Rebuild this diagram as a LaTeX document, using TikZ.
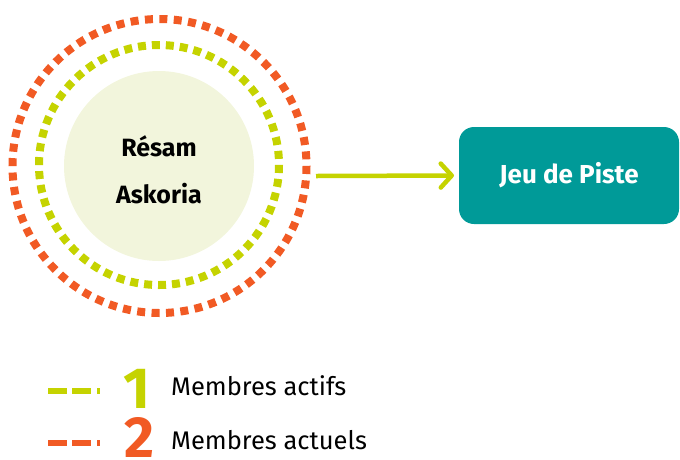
\documentclass[tikz,border=0pt]{standalone}
\usepackage{fontspec}
\setmainfont{Fira Sans}
\usetikzlibrary{arrows.meta}
\definecolor{org}{HTML}{F15A24}
\definecolor{lim}{HTML}{C5D300}
\definecolor{pale}{HTML}{F2F5DC}
\definecolor{teal}{HTML}{009A98}
\tikzset{
  ring/.style={line width=8pt},
  legdash/.style={line width=5.5pt, dash pattern=on 19pt off 5pt on 19pt off 6pt on 3pt off 10pt},
  bignum/.style={font=\bfseries\fontsize{58}{58}\selectfont, anchor=base, inner sep=0pt, text height=40pt, text depth=0pt},
  legtext/.style={font=\fontsize{25.5}{25.5}\selectfont, anchor=base west, inner sep=0pt},
}
\begin{document}
\begin{tikzpicture}[x=1pt,y=-1pt]
\useasboundingbox (0,0) rectangle (680,459);
% circles
\fill[pale] (159,166) circle (95);
\node[font=\bfseries\fontsize{25}{47}\selectfont, align=center, inner sep=0pt, text depth=0pt] (core) at (159,170) {Résam\\Askoria};
\draw[ring, lim, dash pattern=on 8pt off 5.96pt] (159,165) circle (120);
\draw[ring, org, dash pattern=on 8pt off 6.43pt] (159.5,166) circle (147);
\coordinate (ringE) at (316,176);
% box
\node[fill=teal, rounded corners=15pt, minimum width=220pt, minimum height=97pt, inner sep=0pt,
      text=white, font=\bfseries\fontsize{26}{26}\selectfont] (box) at (569,175.5) {Jeu de Piste};
\draw[lim, line width=4.5pt, -{Straight Barb[length=11pt,width=24pt,line cap=round,line join=round]}]
  (ringE) -- (box.west -| 454,0);
% legend
\coordinate (g1) at (48,391);
\coordinate (g2) at (100,391);
\draw[lim, legdash] (g1) -- (g2);
\coordinate (o1) at (48,443);
\coordinate (o2) at (100,443);
\draw[org, legdash] (o1) -- (o2);
\node[bignum, text=lim] (n1) at (137,408) {1};
\node[bignum, text=org] (n2) at (139,457) {2};
\node[legtext] (t1) at (171,395) {Membres actifs};
\node[legtext] (t2) at (171,449) {Membres actuels};
\end{tikzpicture}
\end{document}
